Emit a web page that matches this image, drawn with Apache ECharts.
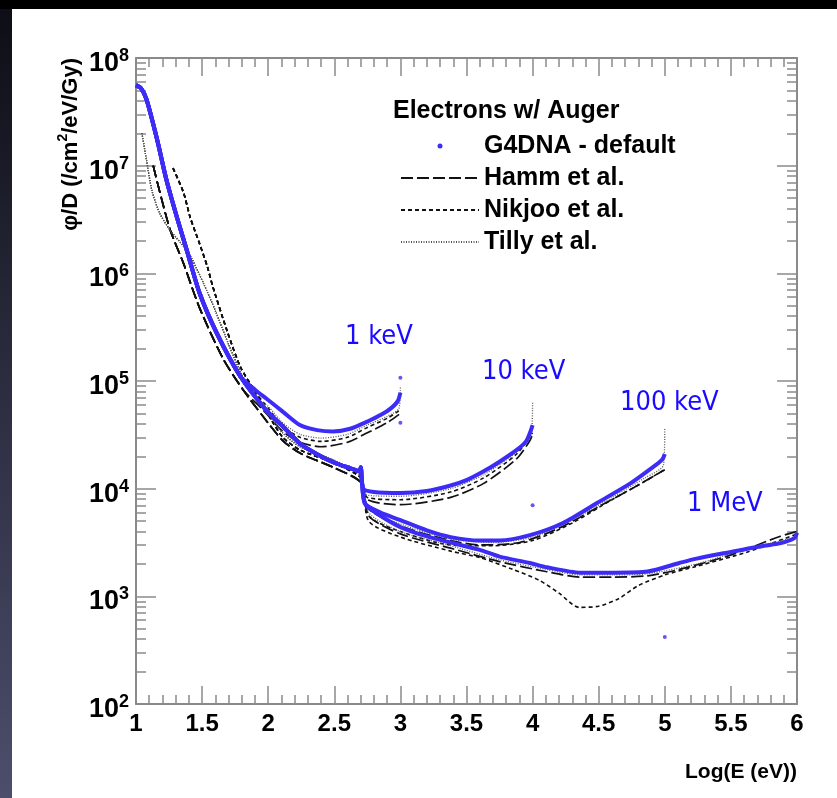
<!DOCTYPE html>
<html><head><meta charset="utf-8">
<script src="https://cdn.jsdelivr.net/npm/echarts@6/dist/echarts.min.js"></script>
<style>
html,body{margin:0;padding:0;background:#000;width:837px;height:798px;overflow:hidden}
#strip{position:absolute;left:0;top:9px;width:12px;height:789px;background:linear-gradient(#0e0e16,#4c4e6c)}
#panel{position:absolute;left:12px;top:9px;width:825px;height:789px;background:#fff}
#chart{position:absolute;left:0;top:0;width:837px;height:798px}
</style></head><body>
<div id="strip"></div><div id="panel"></div><div id="chart"></div>
<script>
// ---- tick labels ----
const xTickLabels = ['1','1.5','2','2.5','3','3.5','4','4.5','5','5.5','6'];
const yTickExponents = ['2','3','4','5','6','7','8'];
const energyLabels = ['1 keV','10 keV','100 keV','1 MeV'];
const seriesNames = ['G4DNA - default','Hamm et al.','Nikjoo et al.','Tilly et al.'];

// ---- G4DNA (blue points) : [log10(E/eV), phi/D] ----
const g4dnaLow = [[1.00,5.6e7],[1.04,5.2e7],[1.08,4.1e7],[1.16,1.74e7],[1.23,7.4e6],[1.31,3.3e6],[1.39,1.55e6],[1.48,6.6e5],[1.61,2.8e5],[1.79,1.1e5]];
const g4dna1keVTail = [[1.90,8.3e4],[1.99,6.8e4],[2.11,5.2e4],[2.24,3.9e4],[2.37,3.5e4],[2.49,3.4e4],[2.62,3.6e4],[2.75,4.2e4],[2.86,4.9e4],[2.93,5.6e4],[2.98,6.5e4],[3.00,7.8e4]];
const g4dnaLowerMid = [[1.99,5.25e4],[2.11,3.8e4],[2.24,2.63e4],[2.37,2.09e4],[2.50,1.74e4],[2.62,1.55e4],[2.69,1.45e4],[2.70,1.58e4]];
const g4dna10keVTail = [[2.72,1.0e4],[2.80,9.3e3],[3.00,9.1e3],[3.20,9.5e3],[3.38,1.07e4],[3.50,1.2e4],[3.63,1.45e4],[3.75,1.78e4],[3.88,2.29e4],[3.95,2.75e4],[3.98,3.3e4],[4.00,3.9e4]];
const g4dna100keVTail = [[2.73,7.4e3],[2.85,6.0e3],[3.00,5.1e3],[3.20,4.1e3],[3.38,3.55e3],[3.60,3.3e3],[3.75,3.3e3],[3.98,3.7e3],[4.23,4.8e3],[4.49,7.4e3],[4.74,1.12e4],[4.90,1.55e4],[4.98,1.86e4],[5.00,2.1e4]];
const g4dna1MeVTail = [[2.73,7.3e3],[2.85,5.6e3],[3.00,4.4e3],[3.20,3.6e3],[3.38,3.16e3],[3.60,2.7e3],[3.75,2.34e3],[3.98,2.04e3],[4.11,1.86e3],[4.36,1.66e3],[4.61,1.66e3],[4.87,1.7e3],[5.11,2.04e3],[5.24,2.24e3],[5.49,2.57e3],[5.75,2.95e3],[5.87,3.1e3],[5.98,3.47e3],[6.00,3.9e3]];
const g4dnaEndPoints = [[3.00,1.07e5],[3.00,4.1e4],[4.00,7.0e3],[5.00,4.2e2]];

// ---- Hamm et al. (long dash) ----
const hammLow = [[1.13,1.0e7],[1.19,5.1e6],[1.26,2.5e6],[1.36,1.23e6],[1.48,4.8e5],[1.66,1.6e5],[1.81,8.3e4]];
const hamm1keVTail = [[1.96,5.4e4],[2.11,3.4e4],[2.24,2.7e4],[2.40,2.45e4],[2.60,2.7e4],[2.75,3.3e4],[2.90,4.1e4],[3.00,5.0e4]];
const hammLowerMid = [[1.96,4.7e4],[2.11,2.8e4],[2.24,2.14e4],[2.49,1.58e4],[2.70,1.15e4]];
const hamm10keVTail = [[2.75,7.9e3],[3.00,7.1e3],[3.38,8.3e3],[3.63,1.12e4],[3.88,1.9e4],[3.98,2.8e4],[4.00,3.2e4]];
const hamm100keVTail = [[2.76,6.5e3],[3.00,4.5e3],[3.38,3.3e3],[3.60,3.0e3],[3.90,3.16e3],[4.20,4.3e3],[4.50,6.8e3],[4.75,1.0e4],[5.00,1.5e4]];
const hamm1MeVTail = [[2.76,5.6e3],[3.00,3.8e3],[3.38,2.8e3],[3.75,2.1e3],[4.10,1.7e3],[4.36,1.51e3],[4.61,1.51e3],[4.87,1.55e3],[5.11,1.78e3],[5.49,2.4e3],[5.87,3.6e3],[6.00,4.0e3]];

// ---- Nikjoo et al. (short dash) ----
const nikjooLow = [[1.28,9.5e6],[1.36,5.6e6],[1.41,3.3e6],[1.48,1.9e6],[1.54,1.15e6],[1.58,7.6e5],[1.69,2.9e5],[1.79,1.35e5],[1.90,8.0e4]];
const nikjoo1keVTail = [[2.00,5.6e4],[2.11,3.8e4],[2.24,3.0e4],[2.40,2.75e4],[2.60,3.0e4],[2.75,3.7e4],[2.90,4.5e4],[3.00,5.4e4]];
const nikjooLowerMid = [[2.00,4.9e4],[2.11,3.0e4],[2.24,2.29e4],[2.49,1.74e4],[2.70,1.26e4]];
const nikjoo10keVTail = [[2.75,8.3e3],[3.00,7.9e3],[3.38,9.3e3],[3.63,1.26e4],[3.88,2.1e4],[4.00,3.3e4]];
const nikjoo100keVTail = [[2.76,5.6e3],[3.00,4.0e3],[3.38,3.0e3],[3.70,2.95e3],[4.00,3.3e3],[4.30,4.8e3],[4.60,7.9e3],[4.85,1.17e4],[5.00,1.51e4]];
const nikjoo1MeVTail = [[2.76,5.0e3],[3.00,3.55e3],[3.38,2.63e3],[3.60,2.29e3],[3.85,1.78e3],[4.05,1.41e3],[4.20,1.07e3],[4.35,7.9e2],[4.50,8.1e2],[4.65,9.5e2],[4.80,1.26e3],[5.00,1.58e3],[5.24,1.9e3],[5.62,2.57e3],[6.00,3.8e3]];

// ---- Tilly et al. (dotted) ----
const tillyLow = [[1.045,2.0e7],[1.08,1.12e7],[1.12,5.9e6],[1.18,3.6e6],[1.26,2.5e6],[1.36,1.78e6],[1.42,1.38e6],[1.51,8.1e5],[1.60,4.5e5],[1.70,2.2e5],[1.80,1.15e5],[1.90,7.2e4]];
const tilly1keVTail = [[2.00,5.8e4],[2.11,4.1e4],[2.24,3.2e4],[2.40,2.95e4],[2.60,3.2e4],[2.75,3.9e4],[2.90,4.7e4],[2.99,5.6e4],[3.00,9.0e4]];
const tillyLowerMid = [[2.00,5.0e4],[2.11,3.3e4],[2.24,2.45e4],[2.49,1.86e4],[2.70,1.32e4]];
const tilly10keVTail = [[2.75,8.7e3],[3.00,8.5e3],[3.38,1.0e4],[3.63,1.35e4],[3.88,2.2e4],[3.99,3.2e4],[4.00,6.5e4]];
const tilly100keVTail = [[2.76,6.6e3],[3.00,4.7e3],[3.38,3.4e3],[3.70,3.16e3],[4.00,3.55e3],[4.30,5.1e3],[4.60,8.3e3],[4.85,1.26e4],[4.99,1.66e4],[5.00,3.7e4]];
const tilly1MeVTail = [[2.76,6.0e3],[3.00,4.0e3],[3.38,2.95e3],[3.75,2.19e3],[4.10,1.78e3],[4.36,1.58e3],[4.61,1.58e3],[4.87,1.62e3],[5.24,2.0e3],[5.62,2.75e3],[6.00,3.55e3]];

// ---- styles ----
const BLUE = '#3d2cf6';
const AX = '#8a8a8a';
const FONT = '"Liberation Sans", Arial, Helvetica, sans-serif';
const ANNOT_FONT = '"DejaVu Sans Condensed","DejaVu Sans",sans-serif';

function lineSeries(name, data, color, width, dash, z) {
  return {
    type: 'line', name: name, data: data, xAxisIndex: 0, yAxisIndex: 0,
    symbol: 'none', showSymbol: false, smooth: 0.25, silent: true, z: z,
    itemStyle: { color: color },
    lineStyle: { color: color, width: width, type: dash }
  };
}
const series = [];
const hammDash = [12, 4], nikDash = [4, 3], tilDash = [1, 1.5];
[hammLow.concat(hamm1keVTail), hammLow.concat(hammLowerMid, hamm10keVTail), hammLow.concat(hammLowerMid, hamm100keVTail), hammLow.concat(hammLowerMid, hamm1MeVTail)]
  .forEach(d => series.push(lineSeries(seriesNames[1], d, '#111', 1.7, hammDash, 3)));
[nikjooLow.concat(nikjoo1keVTail), nikjooLow.concat(nikjooLowerMid, nikjoo10keVTail), nikjooLow.concat(nikjooLowerMid, nikjoo100keVTail), nikjooLow.concat(nikjooLowerMid, nikjoo1MeVTail)]
  .forEach(d => series.push(lineSeries(seriesNames[2], d, '#111', 1.6, nikDash, 3)));
[tillyLow.concat(tilly1keVTail), tillyLow.concat(tillyLowerMid, tilly10keVTail), tillyLow.concat(tillyLowerMid, tilly100keVTail), tillyLow.concat(tillyLowerMid, tilly1MeVTail)]
  .forEach(d => series.push(lineSeries(seriesNames[3], d, '#555', 1.3, tilDash, 3)));
[g4dnaLow.concat(g4dna1keVTail), g4dnaLow.concat(g4dnaLowerMid, g4dna10keVTail), g4dnaLow.concat(g4dnaLowerMid, g4dna100keVTail), g4dnaLow.concat(g4dnaLowerMid, g4dna1MeVTail)]
  .forEach(d => series.push(lineSeries(seriesNames[0], d, BLUE, 4, 'solid', 4)));
series.push({
  type: 'scatter', name: seriesNames[0], data: g4dnaEndPoints, xAxisIndex: 0, yAxisIndex: 0,
  symbol: 'circle', symbolSize: 4, itemStyle: { color: BLUE }, silent: true, z: 4
});

const minorY = [];
for (let n = 2; n < 8; n++) for (let k = 2; k <= 9; k++) minorY.push(n + Math.log10(k));

const xAxisCommon = {
  type: 'value', min: 1, max: 6, interval: 0.5,
  axisLine: { show: true, lineStyle: { color: AX, width: 2 } },
  axisTick: { show: true, inside: true, length: 18, lineStyle: { color: AX, width: 1.5 } },
  minorTick: { show: true, splitNumber: 5, length: 9, lineStyle: { color: AX, width: 1.5 } },
  splitLine: { show: false }, minorSplitLine: { show: false }
};
const yMajorCommon = {
  type: 'value', min: 2, max: 8, interval: 1,
  axisLine: { show: true, lineStyle: { color: AX, width: 2 } },
  axisTick: { show: true, inside: true, length: 20, lineStyle: { color: AX, width: 1.5 } },
  splitLine: { show: false }
};
const yMinorCommon = {
  type: 'value', min: 2, max: 8,
  axisLine: { show: false },
  axisTick: { show: true, inside: true, length: 10, customValues: minorY, lineStyle: { color: AX, width: 1.5 } },
  axisLabel: { show: false }, splitLine: { show: false }
};

const option = {
  animation: false,
  backgroundColor: 'transparent',
  grid: { left: 136, right: 40, top: 58, bottom: 94, containLabel: false },
  title: {
    text: 'Electrons w/ Auger', left: 393, top: 99, padding: 0,
    textStyle: { fontFamily: FONT, fontSize: 25, fontWeight: 'bold', color: '#000' }
  },
  legend: {
    orient: 'vertical', left: 400, top: 131, padding: 0,
    itemWidth: 78, itemHeight: 5, itemGap: 2,
    selectedMode: false,
    itemStyle: { color: 'rgba(0,0,0,0)', borderWidth: 0 },
    textStyle: { fontFamily: FONT, fontSize: 25, fontWeight: 'bold', color: '#000', lineHeight: 30 },
    data: [
      { name: seriesNames[0], icon: 'circle', itemStyle: { color: BLUE } },
      seriesNames[1], seriesNames[2], seriesNames[3]
    ]
  },
  xAxis: [
    Object.assign({}, xAxisCommon, {
      position: 'bottom',
      axisLabel: {
        show: true, margin: 8, color: '#000', fontFamily: FONT, fontWeight: 'bold', fontSize: 24,
        formatter: v => xTickLabels[Math.round((v - 1) / 0.5)]
      }
    }),
    Object.assign({}, xAxisCommon, { position: 'top', axisLabel: { show: false } })
  ],
  yAxis: [
    { type: 'log', logBase: 10, min: 1e2, max: 1e8, show: false },
    Object.assign({}, yMajorCommon, {
      position: 'left',
      axisLabel: {
        show: true, margin: 7, padding: [8, 0, 0, 0],
        formatter: v => '{b|10}{s|' + yTickExponents[Math.round(v - 2)] + '}',
        rich: {
          b: { fontFamily: FONT, fontWeight: 'bold', fontSize: 27, color: '#000', lineHeight: 30, verticalAlign: 'bottom' },
          s: { fontFamily: FONT, fontWeight: 'bold', fontSize: 18, color: '#000', lineHeight: 18, verticalAlign: 'top' }
        }
      }
    }),
    Object.assign({}, yMinorCommon, { position: 'left' }),
    Object.assign({}, yMajorCommon, { position: 'right', axisLabel: { show: false } }),
    Object.assign({}, yMinorCommon, { position: 'right' })
  ],
  graphic: [
    {
      type: 'text', x: 69, y: 58, rotation: Math.PI / 2, z: 10,
      style: {
        text: '{a|φ/D (/cm}{p|2}{a|/eV/Gy)}', align: 'right', verticalAlign: 'middle',
        rich: {
          a: { fontFamily: FONT, fontWeight: 'bold', fontSize: 22, fill: '#000', lineHeight: 26, verticalAlign: 'bottom' },
          p: { fontFamily: FONT, fontWeight: 'bold', fontSize: 14, fill: '#000', lineHeight: 15, verticalAlign: 'top' }
        }
      }
    },
    {
      type: 'text', x: 797, y: 772, z: 10,
      style: { text: 'Log(E (eV))', align: 'right', verticalAlign: 'middle', fontFamily: FONT, fontWeight: 'bold', fontSize: 21, fill: '#000' }
    },
    { type: 'text', x: 345, y: 337, z: 10, style: { text: energyLabels[0], verticalAlign: 'middle', fontFamily: ANNOT_FONT, fontSize: 27, fill: '#1a0aff' } },
    { type: 'text', x: 482, y: 372, z: 10, style: { text: energyLabels[1], verticalAlign: 'middle', fontFamily: ANNOT_FONT, fontSize: 27, fill: '#1a0aff' } },
    { type: 'text', x: 620, y: 403, z: 10, style: { text: energyLabels[2], verticalAlign: 'middle', fontFamily: ANNOT_FONT, fontSize: 27, fill: '#1a0aff' } },
    { type: 'text', x: 687, y: 504, z: 10, style: { text: energyLabels[3], verticalAlign: 'middle', fontFamily: ANNOT_FONT, fontSize: 27, fill: '#1a0aff' } }
  ],
  series: series
};
const chart = echarts.init(document.getElementById('chart'), null, { renderer: 'canvas' });
chart.setOption(option);
</script>
</body></html>
